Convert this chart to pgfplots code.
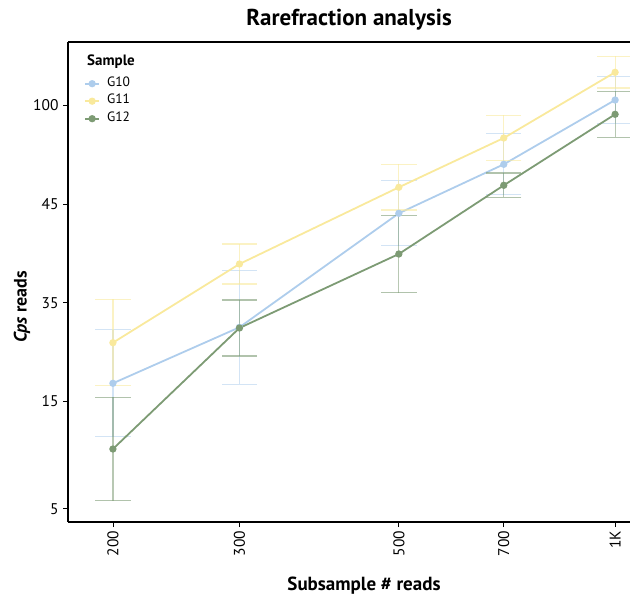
\documentclass[border=0pt]{standalone}
\usepackage{fontspec}
\setmainfont{PT Sans}
\usepackage{pgfplots}
\pgfplotsset{compat=1.18}
\definecolor{cten}{HTML}{AECDEC}
\definecolor{celeven}{HTML}{F9E99C}
\definecolor{ctwelve}{HTML}{7D9B74}

\begin{document}
\begin{tikzpicture}
\begin{axis}[
  at={(0,0)}, anchor=south west,
  scale only axis, width=562bp, height=480bp,
  xmode=log, xmin=173.2, xmax=1049,
  ymin=0, ymax=480,
  xtick={200,300,500,700,1000}, xticklabels={200,300,500,700,1K},
  ytick={13.3,120.7,219.3,317.7,416.5}, yticklabels={5,15,35,45,100},
  minor xtick={}, xminorticks=false,
  axis x line*=bottom, axis y line*=left,
  axis line style={line width=1.8bp, -},
  tick align=outside, major tick length=5bp,
  tick style={black, line width=0.8bp},
  /pgf/number format/assume math mode=true,
  tick label style={font=\fontsize{15.5bp}{18bp}\selectfont},
  x tick label style={rotate=90, anchor=east, xshift=-0.5bp},
  yticklabel style={xshift=-1bp},
  clip=true,
  legend style={draw=none, fill=none, inner sep=0pt,
    at={(axis description cs:0.0285,0.9245)}, anchor=north west,
    font=\fontsize{13.5bp}{15bp}\selectfont,
    nodes={inner sep=0pt, text height=8bp, text depth=2.5bp},
    row sep=7bp,
    /tikz/every odd column/.append style={column sep=7bp}},
  legend cell align=left,
  legend image code/.code={\draw[mark repeat=2, mark phase=2, #1] plot coordinates {(0bp,0bp) (7bp,0bp) (14bp,0bp)};},
  every axis plot/.append style={line width=1.8bp, mark=*, mark size=2.7bp},
  error bars/y dir=both, error bars/y explicit,
]
\addplot[cten, mark options={cten},
  error bars/error bar style={line width=1.2bp, draw opacity=0.55},
  error bars/error mark options={rotate=90, mark size=17.7bp, line width=1.2bp, draw opacity=0.55}]
  coordinates {
  (200,138.7) +- (0,53.6)
  (300,194.7) +- (0,57.0)
  (500,308.7) +- (0,32.4)
  (700,357.7) +- (0,30.4)
  (1000,422.0) +- (0,23.2)
};
\addlegendentry{G10}
\addplot[celeven, mark options={celeven},
  error bars/error bar style={line width=1.2bp, draw opacity=0.6},
  error bars/error mark options={rotate=90, mark size=17.7bp, line width=1.2bp, draw opacity=0.6}]
  coordinates {
  (200,179.3) +- (0,43.2)
  (300,258.0) +- (0,20.0)
  (500,334.7) +- (0,22.8)
  (700,384.0) +- (0,22.5)
  (1000,449.7) +- (0,15.8)
};
\addlegendentry{G11}
\addplot[ctwelve, mark options={ctwelve},
  error bars/error bar style={line width=1.2bp, draw opacity=0.55},
  error bars/error mark options={rotate=90, mark size=17.7bp, line width=1.2bp, draw opacity=0.6}]
  coordinates {
  (200,73.0) +- (0,51.7)
  (300,194.0) +- (0,28.0)
  (500,268.0) +- (0,38.7)
  (700,336.7) +- (0,12.2)
  (1000,407.7) +- (0,22.9)
};
\addlegendentry{G12}
\draw[black, line width=1.8bp] (rel axis cs:0,1) -- (rel axis cs:1,1);
\end{axis}
\node[anchor=west, inner sep=0pt, font=\fontsize{15bp}{18bp}\selectfont\bfseries] at (19bp,460bp) {Sample};
\node[font=\fontsize{23bp}{27bp}\selectfont\bfseries] at (281bp,502bp) {Rarefraction analysis};
\node[font=\fontsize{19bp}{22bp}\selectfont\bfseries] at (296bp,-64bp) {Subsample \# reads};
\node[rotate=90, font=\fontsize{18bp}{21bp}\selectfont\bfseries] at (-46bp,215bp) {\textit{Cps} reads};
\pgfresetboundingbox
\path[use as bounding box] (-68bp,-73bp) rectangle (562bp,522bp);
\end{tikzpicture}
\end{document}
